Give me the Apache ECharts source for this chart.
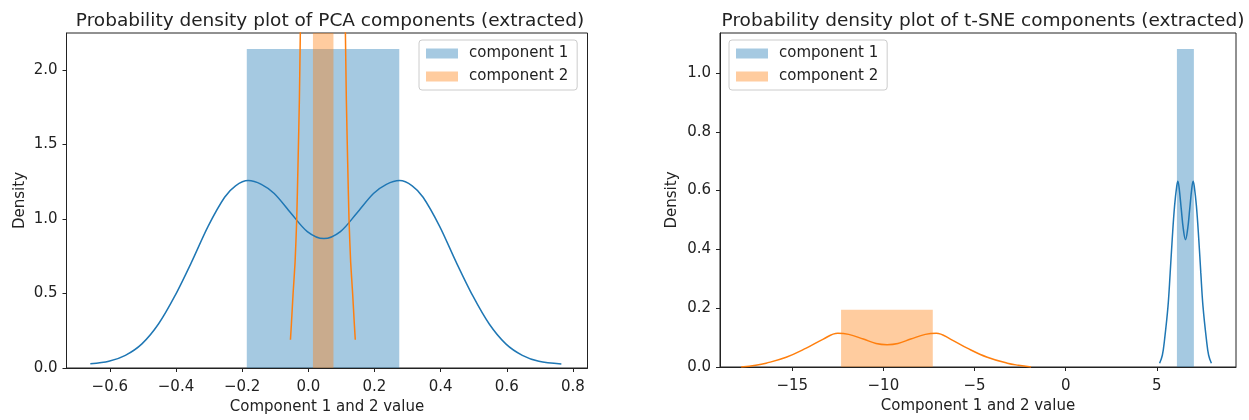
<!DOCTYPE html>
<html>
<head>
<meta charset="utf-8">
<script src="https://cdn.jsdelivr.net/npm/echarts@6/dist/echarts.min.js"></script>
<style>
  html, body { margin: 0; padding: 0; background: #fff; }
  #main { width: 1249px; height: 420px; }
</style>
</head>
<body>
<div id="main"></div>
<script>
// tick labels
var pcaXTicks = [-0.6, -0.4, -0.2, 0, 0.2, 0.4, 0.6, 0.8];
var pcaYTicks = [0, 0.5, 1.0, 1.5, 2.0];
var tsneXTicks = [-15, -10, -5, 0, 5];
var tsneYTicks = [0, 0.2, 0.4, 0.6, 0.8, 1.0];

// histogram bins: [left edge, right edge, density]
var pcaHist1 = [[-0.186, 0.275, 2.14]];
var pcaHist2 = [[0.014, 0.076, 16]];   // runs off the top of the plot
var tsneHist1 = [[6.10, 7.03, 1.082]];
var tsneHist2 = [[-12.32, -7.29, 0.195]];

// kde curves: [x, density]
var pcaKde1 = [
  [-0.659, 0.028], [-0.603, 0.045], [-0.553, 0.085], [-0.503, 0.162], [-0.453, 0.295],
  [-0.403, 0.485], [-0.353, 0.71], [-0.303, 0.95], [-0.253, 1.145], [-0.22, 1.222],
  [-0.182, 1.257], [-0.142, 1.232], [-0.103, 1.17], [-0.053, 1.04], [-0.003, 0.915],
  [0.047, 0.868],
  [0.097, 0.915], [0.147, 1.04], [0.197, 1.17], [0.236, 1.232], [0.276, 1.257],
  [0.314, 1.222], [0.347, 1.145], [0.397, 0.95], [0.447, 0.71], [0.497, 0.485],
  [0.547, 0.295], [0.597, 0.162], [0.647, 0.085], [0.697, 0.045], [0.765, 0.027]
];
var pcaKde2 = [
  [-0.054, 0.19], [-0.051, 0.30], [-0.046, 0.50], [-0.040, 0.71], [-0.035, 1.0],
  [-0.031, 1.38], [-0.027, 1.8], [-0.024, 2.27], [-0.018, 3.2], [-0.005, 5.0],
  [0.044, 7.0], [0.093, 5.0], [0.106, 3.2], [0.112, 2.27], [0.115, 1.8],
  [0.119, 1.38], [0.123, 1.0], [0.128, 0.71], [0.134, 0.50], [0.139, 0.30], [0.142, 0.19]
];
var tsneKde1 = [
  [5.15, 0.013], [5.30, 0.04], [5.42, 0.092], [5.61, 0.206], [5.73, 0.32], [5.84, 0.433],
  [5.97, 0.547], [6.09, 0.615], [6.15, 0.632], [6.22, 0.61], [6.34, 0.536], [6.45, 0.47],
  [6.57, 0.433], [6.69, 0.47], [6.80, 0.536], [6.92, 0.61], [6.99, 0.632], [7.05, 0.615],
  [7.17, 0.547], [7.30, 0.433], [7.41, 0.32], [7.53, 0.206], [7.72, 0.092], [7.84, 0.04], [7.99, 0.013]
];
var tsneKde2 = [
  [-17.8, 0.0], [-17.0, 0.006], [-16.43, 0.013], [-15.33, 0.033], [-14.23, 0.064],
  [-13.32, 0.094], [-12.5, 0.115], [-11.9, 0.111], [-11.1, 0.095], [-10.4, 0.08],
  [-9.8, 0.076], [-9.2, 0.08], [-8.5, 0.095], [-7.7, 0.111], [-7.1, 0.115],
  [-6.3, 0.094], [-5.4, 0.064], [-4.3, 0.033], [-3.2, 0.013], [-2.6, 0.006], [-1.9, 0.0]
];

var blue = '#1f77b4';
var orange = '#ff7f0e';
var blueFill = 'rgba(31,119,180,0.4)';
var orangeFill = 'rgba(255,127,14,0.4)';
var textColor = '#222';
var fontFam = '"DejaVu Sans", sans-serif';

function fmtNum(digits) {
  return function (v) {
    var s = Math.abs(v).toFixed(digits);
    return (v < 0 ? '\u2212' : '') + s;
  };
}

function renderBar(params, api) {
  var p0 = api.coord([api.value(0), api.value(2)]);
  var p1 = api.coord([api.value(1), 0]);
  var cs = params.coordSys;
  var rect = echarts.graphic.clipRectByRect(
    { x: p0[0], y: p0[1], width: p1[0] - p0[0], height: p1[1] - p0[1] },
    { x: cs.x, y: cs.y, width: cs.width, height: cs.height }
  );
  return rect && {
    type: 'rect',
    shape: rect,
    style: { fill: api.visual('color') }
  };
}

function xAxisCfg(grid, min, max, ticks, digits) {
  return {
    type: 'value', gridIndex: grid, min: min, max: max,
    name: 'Component 1 and 2 value', nameLocation: 'middle', nameGap: 32,
    nameTextStyle: { color: textColor, fontSize: 15, fontFamily: fontFam },
    axisLine: { show: true, onZero: false, lineStyle: { color: '#222', width: 1 } },
    axisTick: { show: true, length: 4, customValues: ticks, lineStyle: { color: '#222' } },
    axisLabel: { customValues: ticks, formatter: fmtNum(digits), color: textColor, fontSize: 15, fontFamily: fontFam, margin: 12 },
    splitLine: { show: false }
  };
}

function yAxisCfg(grid, max, ticks, gap) {
  return {
    type: 'value', gridIndex: grid, min: 0, max: max,
    name: 'Density', nameLocation: 'middle', nameGap: gap, nameRotate: 90,
    nameTextStyle: { color: textColor, fontSize: 15, fontFamily: fontFam },
    axisLine: { show: true, onZero: false, lineStyle: { color: '#222', width: 1 } },
    axisTick: { show: true, length: 4, customValues: ticks, lineStyle: { color: '#222' } },
    axisLabel: { customValues: ticks, formatter: fmtNum(1), color: textColor, fontSize: 15, fontFamily: fontFam, margin: 9 },
    splitLine: { show: false }
  };
}

function legendCfg(left) {
  return {
    orient: 'vertical', left: left, top: 40,
    selectedMode: false,
    icon: 'rect', itemWidth: 32, itemHeight: 10, itemGap: 8,
    padding: [6, 9, 6, 7],
    borderColor: '#ccc', borderWidth: 1, borderRadius: 3,
    backgroundColor: 'rgba(255,255,255,0.8)',
    textStyle: { color: textColor, fontSize: 15, fontFamily: fontFam, padding: [0, 0, 0, 6] },
    data: [
      { name: 'component 1', itemStyle: { color: blueFill } },
      { name: 'component 2', itemStyle: { color: orangeFill } }
    ]
  };
}

var myChart = echarts.init(document.getElementById('main'));
var option = {
  animation: false,
  backgroundColor: '#fff',
  title: [
    { text: 'Probability density plot of PCA components (extracted)', left: 325, top: 7, textAlign: 'center',
      textStyle: { color: textColor, fontSize: 18.5, fontWeight: 'normal', fontFamily: fontFam } },
    { text: 'Probability density plot of t-SNE components (extracted)', left: 978, top: 7, textAlign: 'center',
      textStyle: { color: textColor, fontSize: 18.5, fontWeight: 'normal', fontFamily: fontFam } }
  ],
  legend: [legendCfg(419), legendCfg(729)],
  grid: [
    { left: 66.5, top: 33, width: 521, height: 337, show: true, borderColor: '#222', borderWidth: 1 },
    { left: 720, top: 33, width: 516, height: 334, show: true, borderColor: '#222', borderWidth: 1 }
  ],
  xAxis: [
    xAxisCfg(0, -0.731, 0.844, pcaXTicks, 1),
    xAxisCfg(1, -18.96, 9.34, tsneXTicks, 0)
  ],
  yAxis: [
    yAxisCfg(0, 2.247, pcaYTicks, 39),
    yAxisCfg(1, 1.136, tsneYTicks, 40)
  ],
  series: [
    { name: 'component 1', type: 'custom', xAxisIndex: 0, yAxisIndex: 0, renderItem: renderBar,
      itemStyle: { color: blueFill }, encode: { x: [0, 1], y: 2 }, data: pcaHist1, silent: true },
    { name: 'kde 1', type: 'line', xAxisIndex: 0, yAxisIndex: 0, data: pcaKde1, smooth: 0.3,
      showSymbol: false, lineStyle: { color: blue, width: 1.5 }, itemStyle: { color: blue }, clip: true, silent: true },
    { name: 'component 2', type: 'custom', xAxisIndex: 0, yAxisIndex: 0, renderItem: renderBar,
      itemStyle: { color: orangeFill }, encode: { x: [0, 1], y: 2 }, data: pcaHist2, silent: true },
    { name: 'kde 2', type: 'line', xAxisIndex: 0, yAxisIndex: 0, data: pcaKde2, smooth: 0.2,
      showSymbol: false, lineStyle: { color: orange, width: 1.5 }, itemStyle: { color: orange }, clip: true, silent: true },

    { name: 'component 1', type: 'custom', xAxisIndex: 1, yAxisIndex: 1, renderItem: renderBar,
      itemStyle: { color: blueFill }, encode: { x: [0, 1], y: 2 }, data: tsneHist1, silent: true },
    { name: 'kde 1', type: 'line', xAxisIndex: 1, yAxisIndex: 1, data: tsneKde1, smooth: 0.4,
      showSymbol: false, lineStyle: { color: blue, width: 1.5 }, itemStyle: { color: blue }, clip: true, silent: true },
    { name: 'component 2', type: 'custom', xAxisIndex: 1, yAxisIndex: 1, renderItem: renderBar,
      itemStyle: { color: orangeFill }, encode: { x: [0, 1], y: 2 }, data: tsneHist2, silent: true },
    { name: 'kde 2', type: 'line', xAxisIndex: 1, yAxisIndex: 1, data: tsneKde2, smooth: 0.4,
      showSymbol: false, lineStyle: { color: orange, width: 1.5 }, itemStyle: { color: orange }, clip: true, silent: true }
  ]
};
myChart.setOption(option);
</script>
</body>
</html>
